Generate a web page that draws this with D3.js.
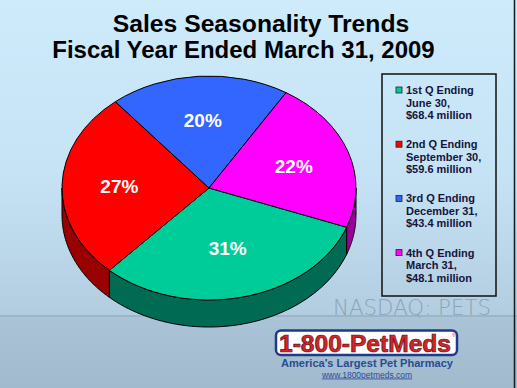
<!DOCTYPE html>
<html>
<head>
<meta charset="utf-8">
<script src="https://cdn.jsdelivr.net/npm/d3@7"></script>
<style>
  html, body { margin: 0; padding: 0; background: #fff; }
  svg { display: block; }
</style>
</head>
<body>
<script>
// datos del grafico
const quarters = ['1st Q Ending', '2nd Q Ending', '3rd Q Ending', '4th Q Ending'];
const quarterDates = ['June 30,', 'September 30,', 'December 31,', 'March 31,'];
const sales = [68.4, 59.6, 43.4, 48.1];
const pctLabels = ['31%', '27%', '20%', '22%'];
const topColors = ['#00cc99', '#ff0000', '#3366ff', '#ff00ff'];
const sideColors = ['#006b52', '#990000', '#1f3d99', '#990099'];

const W = 517, H = 388;
const svg = d3.select('body').append('svg')
  .attr('width', W).attr('height', H)
  .attr('xmlns', 'http://www.w3.org/2000/svg');

// fondo con degradado
const defs = svg.append('defs');
const bg = defs.append('linearGradient').attr('id', 'bg')
  .attr('x1', 0).attr('y1', 0).attr('x2', 0).attr('y2', 1);
bg.append('stop').attr('offset', '0%').attr('stop-color', '#cdebfb');
bg.append('stop').attr('offset', '45%').attr('stop-color', '#c6e3f5');
bg.append('stop').attr('offset', '81%').attr('stop-color', '#b2cde0');
bg.append('stop').attr('offset', '82%').attr('stop-color', '#aac3d6');
bg.append('stop').attr('offset', '100%').attr('stop-color', '#a1bacd');
svg.append('rect').attr('width', W).attr('height', H).attr('fill', 'url(#bg)');

svg.append('line').attr('x1', 0).attr('x2', W).attr('y1', 316).attr('y2', 316)
  .attr('stroke', '#87a1b6').attr('stroke-width', 1.2);
svg.append('line').attr('x1', 514.5).attr('x2', 514.5).attr('y1', 0).attr('y2', H)
  .attr('stroke', '#1a1a1a').attr('stroke-width', 1.5);

// titulos
svg.append('text').attr('x', 261).attr('y', 32).attr('text-anchor', 'middle')
  .attr('font-family', 'Liberation Sans, Arial, sans-serif').attr('font-weight', 'bold')
  .attr('font-size', 24.7).attr('fill', '#000').text('Sales Seasonality Trends');
svg.append('text').attr('x', 243.5).attr('y', 58).attr('text-anchor', 'middle')
  .attr('font-family', 'Liberation Sans, Arial, sans-serif').attr('font-weight', 'bold')
  .attr('font-size', 24).attr('fill', '#000').text('Fiscal Year Ended March 31, 2009');

// NASDAQ
svg.append('text').attr('x', 333).attr('y', 315)
  .attr('font-family', 'DejaVu Sans, sans-serif').attr('font-weight', 200)
  .attr('font-size', 21).attr('fill', '#8ca3b7')
  .attr('textLength', 158).attr('lengthAdjust', 'spacingAndGlyphs')
  .text('NASDAQ: PETS');

// pastel 3D
const cx = 209, cy = 188, rx = 147, ry = 112, depth = 27;
const start = 110.5 * Math.PI / 180;
const pie = d3.pie().sort(null)
  .startAngle(start).endAngle(start + 2 * Math.PI)(sales);

const px = a => cx + rx * Math.sin(a);
const py = a => cy - ry * Math.cos(a);

function sidePath(a0, a1) {
  const pts = [];
  const n = 60;
  for (let i = 0; i <= n; i++) {
    const a = a0 + (a1 - a0) * i / n;
    pts.push([px(a), py(a)]);
  }
  const p = d3.path();
  p.moveTo(pts[0][0], pts[0][1]);
  pts.forEach(q => p.lineTo(q[0], q[1]));
  for (let i = pts.length - 1; i >= 0; i--) p.lineTo(pts[i][0], pts[i][1] + depth);
  p.closePath();
  return p.toString();
}

const sides = svg.append('g');
pie.forEach((d, i) => {
  // solo la parte frontal (entre pi/2 y 3pi/2, contando vueltas)
  [0, 2 * Math.PI].forEach(off => {
    const lo = Math.max(d.startAngle, Math.PI / 2 + off);
    const hi = Math.min(d.endAngle, 3 * Math.PI / 2 + off);
    if (hi > lo) {
      sides.append('path').attr('d', sidePath(lo, hi))
        .attr('fill', sideColors[i]).attr('stroke', '#000')
        .attr('stroke-width', 1).attr('stroke-linejoin', 'round');
    }
  });
});

const arc = d3.arc().innerRadius(0).outerRadius(rx);
const tops = svg.append('g')
  .attr('transform', `translate(${cx},${cy}) scale(1,${ry / rx})`);
tops.selectAll('path').data(pie).join('path')
  .attr('d', arc)
  .attr('fill', (d, i) => topColors[i])
  .attr('stroke', '#000').attr('stroke-width', 1)
  .attr('vector-effect', 'non-scaling-stroke');

const labelR = [0.55, 0.61, 0.61, 0.61];
svg.append('g').selectAll('text').data(pie).join('text')
  .attr('x', (d, i) => cx + labelR[i] * rx * Math.sin((d.startAngle + d.endAngle) / 2))
  .attr('y', (d, i) => cy - labelR[i] * ry * Math.cos((d.startAngle + d.endAngle) / 2) + 7)
  .attr('text-anchor', 'middle')
  .attr('font-family', 'Liberation Sans, Arial, sans-serif').attr('font-weight', 'bold')
  .attr('font-size', 19).attr('fill', '#fff')
  .text((d, i) => pctLabels[i]);

// leyenda
svg.append('rect').attr('x', 382).attr('y', 74).attr('width', 114).attr('height', 222)
  .attr('fill', 'none').attr('stroke', '#111').attr('stroke-width', 1.5);
const leg = svg.append('g').selectAll('g').data(quarters).join('g')
  .attr('transform', (d, i) => `translate(0,${94 + i * 54.2})`);
leg.append('rect').attr('x', 396).attr('y', -7).attr('width', 6).attr('height', 6)
  .attr('fill', (d, i) => topColors[i]).attr('stroke', '#222').attr('stroke-width', 0.8);
const lt = leg.append('text').attr('font-family', 'Liberation Sans, Arial, sans-serif')
  .attr('font-weight', 'bold').attr('font-size', 11).attr('fill', '#14143c');
lt.append('tspan').attr('x', 406).attr('y', 0).text(d => d);
lt.append('tspan').attr('x', 406).attr('y', 12.5).text((d, i) => quarterDates[i]);
lt.append('tspan').attr('x', 406).attr('y', 25).text((d, i) => '$' + sales[i].toFixed(1) + ' million');

// logotipo
svg.append('rect').attr('x', 276).attr('y', 330.5).attr('width', 181).attr('height', 24.5)
  .attr('rx', 5).attr('fill', '#fff').attr('stroke', '#1d3b8c').attr('stroke-width', 2.5);
svg.append('text').attr('x', 279).attr('y', 352)
  .attr('font-family', 'Liberation Sans, Arial, sans-serif').attr('font-weight', 'bold')
  .attr('font-size', 23).attr('fill', '#d9232a').attr('stroke', '#5a1414').attr('stroke-width', 0.7)
  .attr('textLength', 172).attr('lengthAdjust', 'spacingAndGlyphs')
  .text('1-800-PetMeds');
svg.append('text').attr('x', 452).attr('y', 337)
  .attr('font-family', 'Liberation Sans, Arial, sans-serif').attr('font-size', 5)
  .attr('fill', '#d9232a').text('®');
svg.append('text').attr('x', 281).attr('y', 366.5)
  .attr('font-family', 'Liberation Sans, Arial, sans-serif').attr('font-weight', 'bold')
  .attr('font-size', 11).attr('fill', '#2a4c90')
  .attr('textLength', 172).attr('lengthAdjust', 'spacingAndGlyphs')
  .text("America's Largest Pet Pharmacy");
svg.append('text').attr('x', 367).attr('y', 377.5).attr('text-anchor', 'middle')
  .attr('font-family', 'Liberation Sans, Arial, sans-serif')
  .attr('font-size', 8.5).attr('fill', '#2a4c9a').attr('text-decoration', 'underline')
  .text('www.1800petmeds.com');
</script>
</body>
</html>
